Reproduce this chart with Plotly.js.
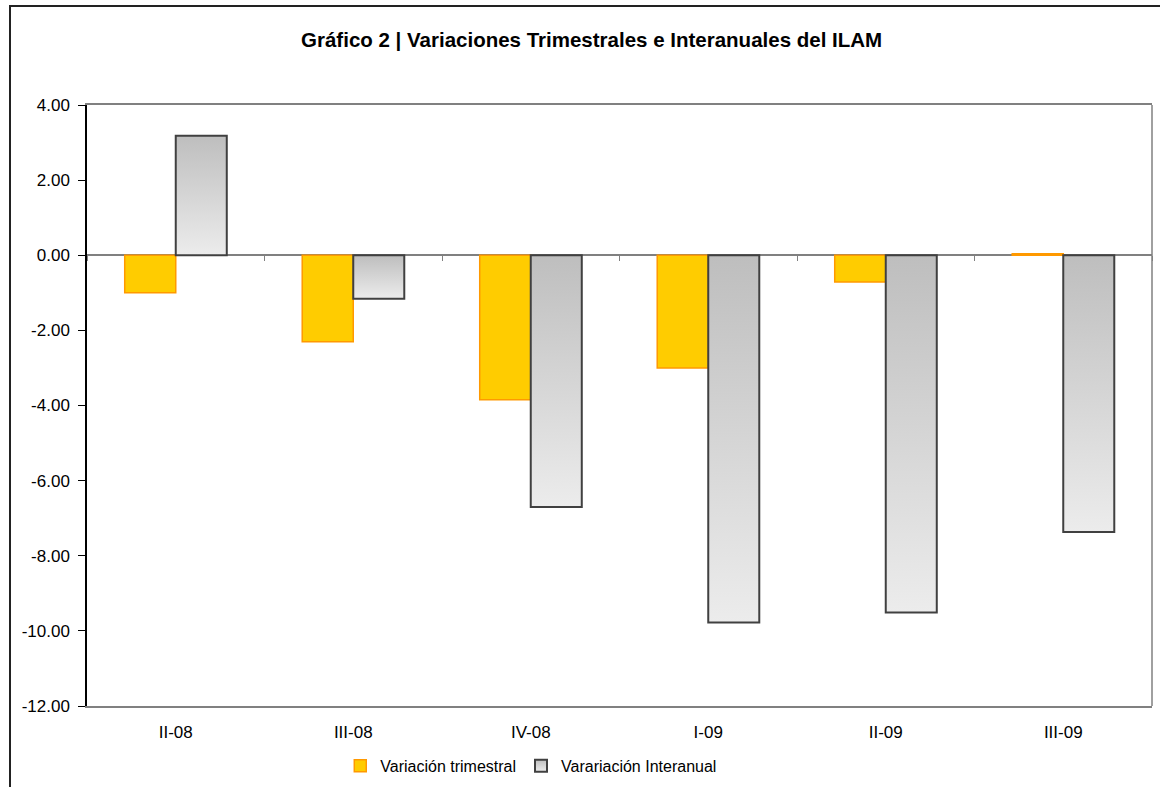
<!DOCTYPE html>
<html>
<head>
<meta charset="utf-8">
<script src="https://cdn.plot.ly/plotly-3.0.1.min.js"></script>
<style>
  html, body { margin: 0; padding: 0; overflow: hidden; background: #fff; }
  #wrap { position: relative; width: 1160px; height: 787px; }
  #chart { width: 1160px; height: 787px; }
  #frame { position: absolute; left: 9px; top: 5px; width: 1200px; height: 900px;
           border-left: 2px solid #222; border-top: 2px solid #222; pointer-events: none; }
</style>
</head>
<body>
<div id="wrap">
  <div id="chart"></div>
  <div id="frame"></div>
</div>
<script>
const categories = ['II-08', 'III-08', 'IV-08', 'I-09', 'II-09', 'III-09'];
const trimestral = [-1.00, -2.30, -3.85, -3.00, -0.71, 0.04];
const interanual = [3.18, -1.16, -6.70, -9.78, -9.51, -7.37];
const yTickVals = [-12, -10, -8, -6, -4, -2, 0, 2, 4];
const yTickText = ['-12.00', '-10.00', '-8.00', '-6.00', '-4.00', '-2.00', '0.00', '2.00', '4.00'];
const seriesNames = ['Variación trimestral', 'Varariación Interanual'];
const titleText = 'Gráfico 2 | Variaciones Trimestrales e Interanuales del ILAM';

const font = 'Liberation Sans, Arial, sans-serif';

const traces = [
  {
    type: 'bar', name: seriesNames[0], x: categories, y: trimestral,
    marker: { color: '#FFCC00', line: { color: '#FF9900', width: 1.5 } },
    hoverinfo: 'x+y'
  },
  {
    type: 'bar', name: seriesNames[1], x: categories, y: interanual,
    marker: { color: '#D4D4D4', line: { color: '#404040', width: 2 } },
    hoverinfo: 'x+y'
  },
  {
    type: 'scatter', mode: 'none', x: categories, y: trimestral,
    xaxis: 'x2', showlegend: false, hoverinfo: 'skip'
  }
];

const layout = {
  width: 1160, height: 787,
  paper_bgcolor: '#fff', plot_bgcolor: '#fff',
  margin: { l: 87, r: 8, t: 105, b: 81 },
  font: { family: font, size: 16, color: '#000' },
  title: {
    text: '<b>' + titleText + '</b>',
    font: { family: font, size: 20.5, color: '#000' },
    xref: 'container', yref: 'container',
    x: 0.51, xanchor: 'center', y: 0.949, yanchor: 'middle'
  },
  barmode: 'group', bargap: 0.425, bargroupgap: 0,
  showlegend: true,
  legend: {
    orientation: 'h', xref: 'container', yref: 'container',
    x: 0.458, xanchor: 'center', y: 0.027, yanchor: 'middle',
    font: { family: font, size: 16, color: '#000' },
    itemwidth: 30, traceorder: 'normal', bgcolor: 'rgba(0,0,0,0)'
  },
  xaxis: {
    type: 'category', range: [-0.5, 5.5],
    showline: true, linecolor: '#808080', linewidth: 1.5, mirror: true,
    ticks: '', showgrid: false, zeroline: false, ticklabelstandoff: 10,
    tickfont: { family: font, size: 17, color: '#000' },
    fixedrange: true
  },
  xaxis2: {
    type: 'category', range: [-0.5, 5.5], overlaying: 'x',
    anchor: 'free', position: 0.75, side: 'bottom',
    tickson: 'boundaries', ticks: 'outside', ticklen: 5, tickwidth: 1.2, tickcolor: '#808080',
    showticklabels: false, showline: false, showgrid: false, zeroline: false,
    fixedrange: true
  },
  yaxis: {
    range: [-12, 4], tickvals: yTickVals, ticktext: yTickText,
    ticks: 'outside', ticklen: 7, tickwidth: 1.2, tickcolor: '#000', ticklabelstandoff: 5,
    showline: true, linecolor: '#000', linewidth: 1.5,
    showgrid: false, zeroline: true, zerolinecolor: '#808080', zerolinewidth: 1.5,
    tickfont: { family: font, size: 17, color: '#000' },
    fixedrange: true
  },
  shapes: [
    { type: 'line', xref: 'paper', yref: 'paper', x0: 1, x1: 1, y0: 0, y1: 1,
      line: { color: '#808080', width: 1.5 }, layer: 'above' }
  ]
};

function applyGradient(gd) {
  const svgNS = 'http://www.w3.org/2000/svg';
  const svg = gd.querySelector('svg.main-svg');
  let defs = svg.querySelector('defs');
  if (!defs) { defs = document.createElementNS(svgNS, 'defs'); svg.insertBefore(defs, svg.firstChild); }
  if (!defs.querySelector('#greyGrad')) {
    const lg = document.createElementNS(svgNS, 'linearGradient');
    lg.setAttribute('id', 'greyGrad');
    lg.setAttribute('x1', '0'); lg.setAttribute('y1', '0');
    lg.setAttribute('x2', '0'); lg.setAttribute('y2', '1');
    [['0', '#BEBEBE'], ['1', '#ECECEC']].forEach(function (s) {
      const st = document.createElementNS(svgNS, 'stop');
      st.setAttribute('offset', s[0]);
      st.setAttribute('stop-color', s[1]);
      lg.appendChild(st);
    });
    defs.appendChild(lg);
  }
  const barTraces = gd.querySelectorAll('.barlayer .trace.bars');
  if (barTraces[1]) {
    barTraces[1].querySelectorAll('path').forEach(function (p) { p.style.fill = 'url(#greyGrad)'; });
  }
  const legTraces = gd.querySelectorAll('.legend .traces');
  if (legTraces[1]) {
    legTraces[1].querySelectorAll('.legendpoints path').forEach(function (p) { p.style.fill = 'url(#greyGrad)'; });
  }
}

Plotly.newPlot('chart', traces, layout, { displayModeBar: false, staticPlot: false })
  .then(function (gd) { applyGradient(gd); gd.on('plotly_afterplot', function () { applyGradient(gd); }); });
</script>
</body>
</html>
